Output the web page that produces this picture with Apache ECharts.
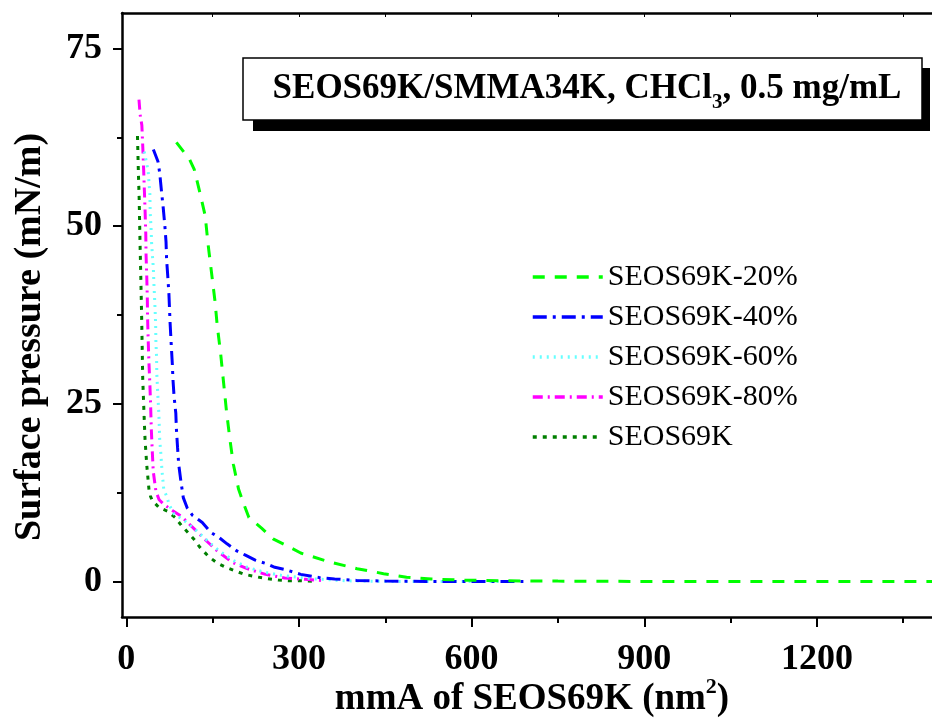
<!DOCTYPE html>
<html>
<head>
<meta charset="utf-8">
<script src="https://cdn.jsdelivr.net/npm/echarts@6/dist/echarts.min.js"></script>
<style>
html, body { margin: 0; padding: 0; background: #fff; }
#main { width: 932px; height: 722px; }
</style>
</head>
<body>
<div id="main"></div>
<script>
// series names
var seriesNames = ['SEOS69K-20%', 'SEOS69K-40%', 'SEOS69K-60%', 'SEOS69K-80%', 'SEOS69K'];

// SEOS69K-20%
var area20 = [87, 110, 118, 127, 137, 142, 148, 154, 158, 164, 169, 174, 180, 186, 195, 205, 213, 235, 255, 280, 303, 355, 401, 447, 487, 530, 580, 650, 750, 900, 1100, 1300, 1420];
var pres20 = [61.8, 59.4, 58, 55, 51.5, 47.5, 43.5, 39.5, 36, 32, 28, 24, 20, 16.5, 13, 10.7, 9, 7.5, 6, 5, 4, 2.7, 1.8, 1.1, 0.6, 0.35, 0.2, 0.1, 0.05, 0, 0, 0, 0];

// SEOS69K-40%
var area40 = [47, 55, 58, 61, 64, 67, 69, 70, 72, 74, 76, 78, 80, 81, 83, 86, 87, 89, 91, 95, 99, 106, 115, 132, 147, 161, 175, 192, 207, 224, 244, 258, 275, 303, 338, 362, 400, 450, 520, 600, 690];
var pres40 = [60.8, 59.1, 57.5, 55, 52.7, 50, 47.8, 45.3, 43, 40.5, 36.5, 33.4, 30.5, 28.5, 26, 23.7, 21.5, 18.9, 16.5, 14, 11.8, 10.3, 9.3, 8.3, 6.9, 6.2, 5.3, 4.3, 3.7, 3, 2.5, 2, 1.7, 1, 0.5, 0.35, 0.15, 0.05, 0, 0, 0];

// SEOS69K-60%
var area60 = [31, 35, 38, 41, 41.5, 43, 44, 47, 48, 50, 51, 51.4, 52.6, 53, 54.3, 55, 56.6, 58, 60, 62, 65, 70, 75, 83, 100, 120, 140, 160, 185, 210, 240, 270, 320, 380, 450, 550, 660];
var pres60 = [60.5, 59, 57.7, 54.4, 51.9, 49.8, 47.5, 44, 41.8, 38.3, 36, 33.8, 31.5, 29.2, 27, 25.9, 23.5, 20, 18, 15.6, 13, 12, 10.7, 9.5, 8.6, 7.3, 5.8, 4.4, 3, 2, 1.3, 0.85, 0.4, 0.1, 0, 0, 0];

// SEOS69K-80%
var area80 = [22, 24, 27, 28.6, 30, 31.4, 32.6, 33.8, 34.3, 35.5, 36.5, 37, 38, 39.4, 41, 42.3, 43.4, 45, 46.8, 51.4, 57, 66, 80, 95, 118, 138, 158, 184, 210, 242, 275, 311, 345];
var pres80 = [67.8, 65.7, 64.2, 61.2, 58.2, 55, 52.2, 49, 46, 43, 39.8, 37, 34, 30.6, 27.6, 24.6, 21.5, 18.5, 15.5, 12.7, 11.5, 10.8, 10, 9.2, 7.4, 5.8, 4.3, 2.7, 1.8, 1, 0.5, 0.3, 0.1];

// SEOS69K
var area0 = [19.4, 21, 22.3, 24, 25, 26.8, 28.5, 30.9, 32.6, 35.5, 37.5, 39.4, 42, 45, 57, 71.5, 85, 95.5, 107, 118, 128, 143, 158, 172.6, 188.6, 205.7, 223, 244, 264, 284, 303, 330];
var pres0 = [62.7, 57.5, 54, 47, 43.6, 36.6, 28.6, 23.3, 19.9, 16.4, 14.6, 12.9, 12, 11.4, 10.4, 9.9, 9, 7.9, 6.9, 5.9, 4.8, 3.5, 2.6, 2, 1.5, 1, 0.7, 0.4, 0.2, 0.1, 0.1, 0];

// tick values
var xMajorTicks = [0, 300, 600, 900, 1200];
var xMinorTicks = [150, 450, 750, 1050, 1350];
var xTopTicks = [150, 300, 450, 600, 750, 900, 1050, 1200, 1350];
var yMajorTicks = [0, 25, 50, 75];
var yMinorTicks = [12.5, 37.5, 62.5];

function pairs(xs, ys) {
    return xs.map(function (x, i) { return [x, ys[i]]; });
}

var myChart = echarts.init(document.getElementById('main'));
var FONT = 'Liberation Serif';
var X_MIN = -7.5, X_MAX = 1400, Y_MIN = -5, Y_MAX = 80;

var lineColors = ['#00ff00', '#0000ff', '#66ffff', '#ff00ff', '#007f00'];
var lineDashes = [[12, 10], [14, 6, 3, 6], [2, 5], [10, 5, 2, 5], [4, 6]];
var allData = [pairs(area20, pres20), pairs(area40, pres40), pairs(area60, pres60), pairs(area80, pres80), pairs(area0, pres0)];

var axisLineStyle = { color: '#000', width: 2.5 };
var plain = function (v) { return String(v); };

// lay out a line of text pieces (with sub/superscripts) centred on cx
var measureCtx = document.createElement('canvas').getContext('2d');
function textRun(pieces, cx, cy, z) {
    var widths = pieces.map(function (p) {
        measureCtx.font = 'bold ' + p.size + 'px "' + FONT + '"';
        return measureCtx.measureText(p.text).width;
    });
    var total = widths.reduce(function (a, b) { return a + b; }, 0);
    var x = cx - total / 2;
    return pieces.map(function (p, i) {
        var el = {
            type: 'text', x: x, y: cy + (p.dy || 0), z: z,
            style: {
                text: p.text, align: 'left', verticalAlign: 'middle',
                fontFamily: FONT, fontWeight: 'bold', fontSize: p.size, fill: '#000'
            }
        };
        x += widths[i];
        return el;
    });
}

var titleParts = [
    { text: 'SEOS69K/SMMA34K, CHCl', size: 35 },
    { text: '3', size: 21, dy: 14 },
    { text: ', 0.5 mg/mL', size: 35 }
];
var xNameParts = [
    { text: 'mmA of SEOS69K (nm', size: 37 },
    { text: '2', size: 22, dy: -12 },
    { text: ')', size: 37 }
];

var option = {
    animation: false,
    grid: { left: 122, top: 13, width: 821, height: 604, containLabel: false },
    legend: {
        data: seriesNames,
        orient: 'vertical',
        left: 526,
        top: 257,
        itemWidth: 70,
        itemHeight: 30,
        itemGap: 10,
        itemStyle: { opacity: 0 },
        lineStyle: { width: 3.5 },
        textStyle: { fontFamily: FONT, fontSize: 30, color: '#000', lineHeight: 30 }
    },
    xAxis: [{
        type: 'value', min: X_MIN, max: X_MAX, position: 'bottom',
        axisLine: { onZero: false, lineStyle: axisLineStyle },
        axisTick: { customValues: xMajorTicks, length: 10, lineStyle: { color: '#000', width: 2 } },
        axisLabel: { customValues: xMajorTicks, formatter: plain, margin: 25, fontFamily: FONT, fontWeight: 'bold', fontSize: 36, color: '#000' },
        splitLine: { show: false }
    }, {
        type: 'value', min: X_MIN, max: X_MAX, position: 'bottom',
        axisLine: { show: false, onZero: false },
        axisTick: { customValues: xMinorTicks, length: 6, lineStyle: { color: '#000', width: 2 } },
        axisLabel: { show: false },
        splitLine: { show: false }
    }, {
        type: 'value', min: X_MIN, max: X_MAX, position: 'top',
        axisLine: { onZero: false, lineStyle: axisLineStyle },
        axisTick: { customValues: xTopTicks, inside: true, length: 4, lineStyle: { color: '#000', width: 1 } },
        axisLabel: { show: false },
        splitLine: { show: false }
    }],
    yAxis: [{
        type: 'value', min: Y_MIN, max: Y_MAX, position: 'left',
        axisLine: { show: true, onZero: false, lineStyle: axisLineStyle },
        axisTick: { show: true, customValues: yMajorTicks, length: 9, lineStyle: { color: '#000', width: 2 } },
        axisLabel: { customValues: yMajorTicks, formatter: plain, margin: 20, fontFamily: FONT, fontWeight: 'bold', fontSize: 36, color: '#000' },
        splitLine: { show: false }
    }, {
        type: 'value', min: Y_MIN, max: Y_MAX, position: 'left',
        axisLine: { show: false, onZero: false },
        axisTick: { show: true, customValues: yMinorTicks, length: 5, lineStyle: { color: '#000', width: 2 } },
        axisLabel: { show: false },
        splitLine: { show: false }
    }],
    series: seriesNames.map(function (name, i) {
        return {
            name: name,
            type: 'line',
            symbol: 'none',
            data: allData[i],
            clip: true,
            lineStyle: { color: lineColors[i], width: 3, type: lineDashes[i] },
            itemStyle: { color: lineColors[i] },
            z: 10 - i
        };
    }),
    graphic: [
        // title box with hard shadow
        { type: 'rect', shape: { x: 253, y: 68, width: 677, height: 63 }, style: { fill: '#000' }, z: 50 },
        { type: 'rect', shape: { x: 243, y: 58, width: 679, height: 62 }, style: { fill: '#fff', stroke: '#000', lineWidth: 1.5 }, z: 51 },
        {
            type: 'text', x: 30, y: 337, rotation: Math.PI / 2, z: 52,
            style: {
                text: 'Surface pressure (mN/m)',
                align: 'center', verticalAlign: 'middle',
                fontFamily: FONT, fontWeight: 'bold', fontSize: 38, fill: '#000'
            }
        }
    ].concat(textRun(titleParts, 587, 89, 52), textRun(xNameParts, 532, 699, 52))
};

myChart.setOption(option);
</script>
</body>
</html>
